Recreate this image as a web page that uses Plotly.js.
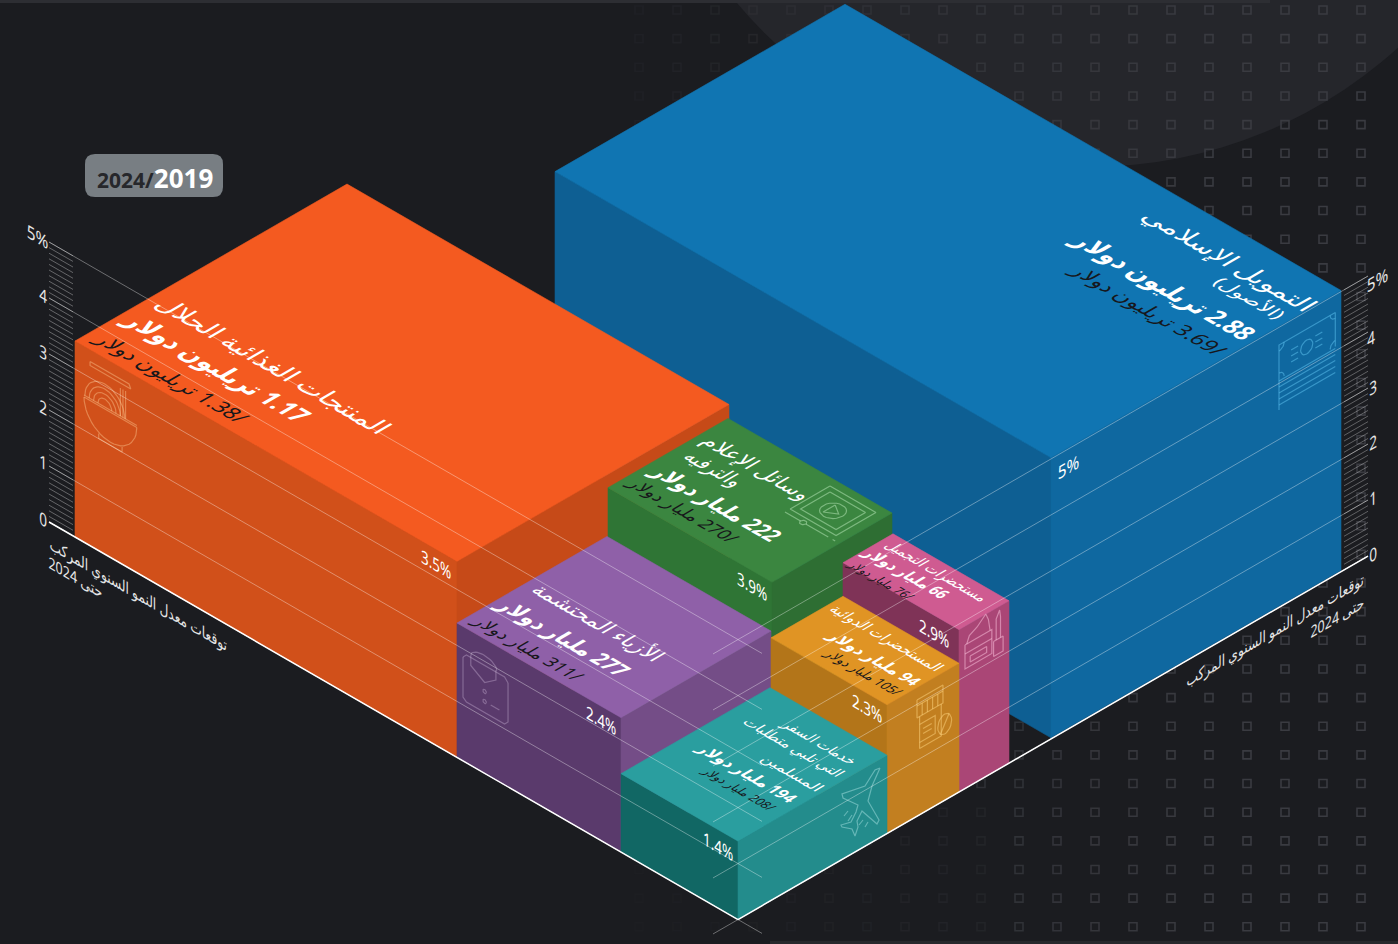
<!DOCTYPE html>
<html lang="ar">
<head>
<meta charset="utf-8">
<title>الاقتصاد الإسلامي</title>
<script src="https://cdn.plot.ly/plotly-3.0.1.min.js"></script>
<style>html,body{margin:0;padding:0;background:#1b1c20;overflow:hidden}#chart{width:1398px;height:944px}</style>
</head>
<body>
<div id="chart"></div>
<script>
// Sector figures
const sectors = ['التمويل الإسلامي', 'المنتجات الغذائية الحلال', 'وسائل الإعلام والترفيه', 'الأزياء المحتشمة', 'مستحضرات التجميل', 'المستحضرات الدوائية', 'خدمات السفر التي تلبي متطلبات المسلمين'];
const growthPct = [5, 3.5, 3.9, 2.4, 2.9, 2.3, 1.4];
const value2019 = ['2.88', '1.17', '222', '277', '66', '94', '194'];
const value2024 = ['3.69', '1.38', '270', '311', '76', '105', '208'];
const units = ['تريليون دولار', 'تريليون دولار', 'مليار دولار', 'مليار دولار', 'مليار دولار', 'مليار دولار', 'مليار دولار'];
const yAxisTicks = [0, 1, 2, 3, 4, 5];

// Floor plan of each block, painted back to front
const floorA0 = [166, 0, 413, 382, 547, 547, 546];
const floorA1 = [662, 382, 577, 546, 663, 663, 663];
const floorB0 = [314, 0, 120, 0, 221, 149, 0];
const floorB1 = [604, 272, 240, 150, 271, 221, 149];

const topColors = ['#1075b2', '#f45a20', '#3b8640', '#8f60a8', '#cf5b91', '#e09424', '#2a9e9f'];
const leftColors = ['#0e5f93', '#d1501a', '#2f7535', '#5a3a6c', '#7f3357', '#b37519', '#116764'];
const rightColors = ['#0f68a0', '#c64a18', '#2e6e33', '#744d87', '#aa4676', '#c27f20', '#238c8c'];

// Isometric projection of floor coordinates and height in percent
const X0 = 75, Y0 = 537, SLOPE = 0.577, PX_PER_PCT = 56;
const project = (a, b, h) => [X0 + a + b, Y0 + SLOPE * (a - b) - PX_PER_PCT * h];

const PLANES = {
  top: [0.866, 0.5, -0.866, 0.5],
  left: [0.866, 0.5, 0, 1],
  right: [0.866, -0.5, 0, 1],
  flat: [1, 0, 0, 1]
};

const traces = [];
const hidden = { hoverinfo: 'skip', showlegend: false, cliponaxis: false };

// Rounded-square texture behind the chart
(function texture() {
  const xs = [], ys = [], op = [];
  for (let c = 0; c < 21; c++) {
    for (let r = 0; r < 33; r++) {
      const x = 639 + 38 * c, y = 10 + 28.65 * r;
      xs.push(x); ys.push(y);
      const ramp = Math.min(1, (x - 600) / 620);
      op.push((y > 790 && x < 1000 ? 0.4 : 1) * (0.1 + 0.9 * ramp));
    }
  }
  traces.push(Object.assign({
    type: 'scatter', mode: 'markers', x: xs, y: ys,
    marker: { symbol: 'square-open', size: 8, opacity: op, line: { color: '#3a3b41', width: 1.6 }, color: '#3a3b41' }
  }, hidden));
})();

function face(points, color) {
  const closed = points.concat([points[0]]);
  traces.push(Object.assign({
    type: 'scatter', mode: 'lines', fill: 'toself', fillcolor: color,
    x: closed.map(p => p[0]), y: closed.map(p => p[1]),
    line: { width: 0.6, color: color }
  }, hidden));
}

sectors.forEach((_, i) => {
  const a0 = floorA0[i], a1 = floorA1[i], b0 = floorB0[i], b1 = floorB1[i], h = growthPct[i];
  face([project(a0, b0, h), project(a1, b0, h), project(a1, b0, 0), project(a0, b0, 0)], leftColors[i]);
  face([project(a1, b0, h), project(a1, b1, h), project(a1, b1, 0), project(a1, b0, 0)], rightColors[i]);
  face([project(a0, b0, h), project(a1, b0, h), project(a1, b1, h), project(a0, b1, h)], topColors[i]);
});

// Thin-line pictograms laid on the block faces
function arc(cx, cy, rx, ry, t0, t1) {
  const pts = [], n = 24;
  for (let k = 0; k <= n; k++) {
    const t = (t0 + (t1 - t0) * k / n) * Math.PI / 180;
    pts.push([cx + rx * Math.cos(t), cy + ry * Math.sin(t)]);
  }
  return pts;
}
function icon(plane, ox, oy, paths, color) {
  const m = PLANES[plane], xs = [], ys = [];
  paths.forEach(path => {
    path.forEach(p => {
      xs.push(ox + m[0] * p[0] + m[2] * p[1]);
      ys.push(oy + m[1] * p[0] + m[3] * p[1]);
    });
    xs.push(null); ys.push(null);
  });
  traces.push(Object.assign({
    type: 'scatter', mode: 'lines', x: xs, y: ys,
    line: { color: color, width: 1.2, shape: 'linear' }
  }, hidden));
}
// noodle bowl
icon('left', 84, 395, [
  [[0, 0], [61, 0]],
  [[0, 2], [61, 2]],
  arc(30.5, 2, 30.5, 30, 0, 180),
  [[17, 30], [17, 35], [44, 35], [44, 30]],
  arc(24, 0, 8, 8, 180, 360), arc(24, 0, 13, 13, 180, 360), arc(24, 0, 18, 18, 180, 360), arc(24, 0, 23, 23, 180, 360),
  [[42, -28], [42, 0]], [[45, -28], [45, 0]], [[48, -28], [48, 0]],
  [[7, -37], [52, -37], [54, -33], [7, -33], [7, -37]]
], 'rgba(255,205,150,0.42)');
// banknote and ledger
icon('right', 1279, 345, [
  [[0, 65], [0, 0], [65, 0], [65, 34]],
  arc(32, 18, 7, 7, 0, 360),
  [[14, 12], [22, 12]], [[14, 18], [22, 18]], [[14, 24], [22, 24]],
  [[42, 12], [50, 12]], [[42, 18], [50, 18]], [[42, 24], [50, 24]],
  arc(0, 0, 6, 6, 0, 90), arc(65, 0, 6, 6, 90, 180), arc(0, 34, 6, 6, -90, 0), arc(65, 34, 6, 6, 180, 270),
  [[0, 36], [65, 36]], [[0, 42], [65, 42]], [[0, 48], [65, 48]], [[0, 54], [65, 54]], [[0, 60], [65, 60]]
], 'rgba(90,190,235,0.55)');
// screen with a play button
icon('top', 830, 486, [
  [[0, 0], [53, 0], [53, 46], [0, 46], [0, 0]],
  [[6, 6], [47, 6], [47, 40], [6, 40], [6, 6]],
  arc(26.5, 23, 11, 11, 0, 360),
  [[22, 16], [33, 23], [22, 30], [22, 16]],
  [[0, 52], [18, 52]], arc(21, 52, 3, 3, 0, 360), [[24, 52], [50, 52]], [[55, 52], [58, 52]]
], 'rgba(190,235,190,0.5)');
// cream jar and lipstick
icon('right', 965, 645, [
  [[0, 0], [31, 0], [31, 24], [0, 24], [0, 0]],
  [[0, 9], [31, 9]], [[6, 14], [25, 14], [25, 20], [6, 20], [6, 14]],
  [[2, 0], [5, -7], [14, -11], [24, -19], [27, -12], [29, 0]],
  [[33, 13], [44, 13], [44, 28], [33, 28], [33, 13]],
  [[36, 13], [36, -8], [40, -15], [41, -8], [41, 13]]
], 'rgba(255,200,225,0.5)');
// pill bottle
icon('right', 917, 700, [
  [[0, 0], [30, 0], [30, 18], [0, 18], [0, 0]],
  [[6, 6], [6, 18]], [[12, 6], [12, 18]], [[18, 6], [18, 18]], [[24, 6], [24, 18]], [[0, 6], [30, 6]],
  [[3, 18], [3, 50], [28, 50], [28, 18]],
  [[3, 26], [21, 26], [21, 44], [3, 44]], [[7, 32], [17, 32]], [[7, 37], [17, 37]],
  arc(32, 40, 8, 10, 0, 360), [[27, 48], [37, 32]]
], 'rgba(250,205,120,0.55)');
// aeroplane
icon('flat', 860, 803, [
  [[20, -35], [12, -17], [8, -2], [19, 17], [17, 21], [2, 8], [-3, 18], [-2, 24], [-5, 33], [-8, 26], [-18, 24], [-19, 22], [-9, 19], [-4, 9], [-2, 2], [-17, -5], [-18, -9], [5, -17], [15, -33], [20, -35]],
  [[-12, 8], [-16, 13]], [[-8, 12], [-12, 18]], [[3, 17], [-1, 22]], [[8, 19], [5, 24]]
], 'rgba(190,240,240,0.42)');
// shirt tag
icon('left', 463, 653, [
  [[0, 4], [0, 44], [4, 47], [48, 47], [52, 43], [52, 4]],
  [[0, 4], [4, 0], [48, 0], [52, 4]],
  arc(24, -2, 15, 8, 180, 360),
  [[9, -2], [9, 8], [25, 17], [38, 8], [38, -2]],
  arc(25, 26, 2, 2, 0, 360), arc(25, 36, 2, 2, 0, 360), [[32, 36], [42, 36]]
], 'rgba(235,215,245,0.3)');

// Grid: one line per percent along each floor edge, plus a hatched scale behind
const END_A = 663, END_B = 604;
function line(p, q, color, width) {
  traces.push(Object.assign({
    type: 'scatter', mode: 'lines', x: [p[0], q[0]], y: [p[1], q[1]],
    line: { color: color, width: width }
  }, hidden));
}
for (let t = 0; t <= 50; t++) {
  const h = t / 10;
  line(project(-26, 0, h), project(-2, 0, h), 'rgba(255,255,255,0.32)', 1);
  line(project(END_A, END_B + 2, h), project(END_A, END_B + 26, h), 'rgba(255,255,255,0.30)', 1);
}
yAxisTicks.forEach(h => {
  line(project(-26, 0, h), project(END_A + 24, 0, h), 'rgba(255,255,255,0.36)', 1);
  line(project(END_A, -25, h), project(END_A, END_B + 26, h), 'rgba(255,255,255,0.36)', 1);
});
line(project(-26, 0, 0), project(END_A, 0, 0), '#ffffff', 1.5);
line(project(END_A, 0, 0), project(END_A, END_B + 26, 0), '#ffffff', 1.5);

// Labels: text, screen centre, run length and plane
const WHITE = '#ffffff', INK = '#17171b';
const rtl = s => '\u202B' + s + '\u202C';
const labels = [];
function label(text, cx, cy, len, size, plane, color, weight) {
  labels.push({ text, cx, cy, len, size, plane, color: color || WHITE, weight: weight || 400 });
}
const money = (i, bold) => rtl((bold ? value2019[i] : '/' + value2024[i]) + ' ' + units[i]);
const pct = i => growthPct[i] + '%';

label(rtl('التمويل الإسلامي'), 1230, 260, 190, 25, 'top');
label(rtl('(الأصول)'), 1250, 298, 74, 18, 'top');
label(money(0, true), 1164, 286, 200, 26, 'top', WHITE, 700);
label(money(0, false), 1149, 310, 170, 21, 'top', INK);

label(rtl('المنتجات الغذائية الحلال'), 274, 365, 260, 25, 'top');
label(money(1, true), 217, 367, 204, 26, 'top', WHITE, 700);
label(money(1, false), 172, 378, 168, 21, 'top', INK);

label(rtl('وسائل الإعلام'), 758, 467, 118, 22, 'top');
label(rtl('والترفيه'), 715, 468, 60, 22, 'top');
label(money(2, true), 717, 503, 140, 23, 'top', WHITE, 700);
label(money(2, false), 683, 510, 120, 18, 'top', INK);

label(rtl('الأزياء المحتشمة'), 599, 622, 143, 22, 'top');
label(money(3, true), 564, 637, 143, 23, 'top', WHITE, 700);
label(money(3, false), 528, 648, 120, 18, 'top', INK);

label(rtl('مستحضرات التجميل'), 937, 571, 112, 16, 'top');
label(money(4, true), 907, 573, 92, 17, 'top', WHITE, 700);
label(money(4, false), 881, 580, 70, 13, 'top', INK);

label(rtl('المستحضرات الدوائية'), 887, 638, 124, 16, 'top');
label(money(5, true), 875, 658, 100, 17, 'top', WHITE, 700);
label(money(5, false), 864, 672, 84, 14, 'top', INK);

label(rtl('خدمات السفر'), 820, 742, 81, 15, 'top');
label(rtl('التي تلبي متطلبات'), 794, 747, 110, 15, 'top');
label(rtl('المسلمين'), 793, 773, 65, 15, 'top');
label(money(6, true), 748, 773, 108, 17, 'top', WHITE, 700);
label(money(6, false), 739, 789, 79, 13, 'top', INK);

// Growth rates printed beside each block's front corner
label(pct(1), 436, 564, 35, 18, 'left');
label(pct(2), 752, 586, 35, 18, 'left');
label(pct(3), 601, 720, 35, 18, 'left');
label(pct(4), 934, 633, 35, 18, 'left');
label(pct(5), 867, 708, 35, 18, 'left');
label(pct(6), 718, 846, 35, 18, 'left');
label(pct(0), 1068, 467, 25, 18, 'right');

// Scale numerals on both walls
const leftTickY = [519, 462, 407, 352, 295, 236];
const rightTickY = [554, 498, 442, 387, 338, 280];
const rightTickX = [1373, 1373, 1373, 1373, 1371, 1377];
yAxisTicks.forEach((t, i) => {
  label(t === 5 ? '5%' : String(t), t === 5 ? 37 : 43, leftTickY[i], t === 5 ? 25 : 9, 18, 'left', '#e6e6e6');
  label(t === 5 ? '5%' : String(t), rightTickX[i], rightTickY[i], t === 5 ? 25 : 9, 18, 'right', '#e6e6e6');
});

// Wall captions
label(rtl('توقعات معدل النمو السنوي المركب'), 138, 594, 205, 16, 'left', '#e6e6e6');
label(rtl('حتى 2024'), 75, 577, 62, 16, 'left', '#e6e6e6');
label(rtl('توقعات معدل النمو السنوي المركب'), 1275, 630, 205, 16, 'right', '#e6e6e6');
label(rtl('حتى 2024'), 1337, 617, 62, 16, 'right', '#e6e6e6');

const FONT = '"Noto Sans", "DejaVu Sans", sans-serif';
const annotations = labels.map(l => ({
  x: l.cx, y: l.cy, xref: 'x', yref: 'y', text: l.text, showarrow: false,
  xanchor: 'center', yanchor: 'middle', textangle: 0.001,
  font: { family: FONT, size: l.size, color: l.color, weight: l.weight }
}));
annotations.push({
  x: 155, y: 178, xref: 'x', yref: 'y', showarrow: false, xanchor: 'center', yanchor: 'middle',
  text: '<span style="color:#26272b;font-size:21px"><b>2024/</b></span><span style="color:#ffffff;font-size:26px"><b>2019</b></span>',
  font: { family: FONT, size: 24, color: '#ffffff' }
});

const layout = {
  width: 1398, height: 944, autosize: false,
  margin: { l: 0, r: 0, t: 0, b: 0, pad: 0 },
  paper_bgcolor: '#1b1c20', plot_bgcolor: 'rgba(0,0,0,0)',
  showlegend: false, hovermode: false, dragmode: false,
  xaxis: { range: [0, 1398], visible: false, fixedrange: true },
  yaxis: { range: [944, 0], visible: false, fixedrange: true },
  annotations,
  shapes: [
    { type: 'circle', layer: 'below', xref: 'x', yref: 'y', x0: 629, x1: 1549, y0: -753, y1: 167, fillcolor: '#25262b', line: { width: 0 } },
    { type: 'rect', layer: 'below', xref: 'x', yref: 'y', x0: 0, x1: 1270, y0: 0, y1: 3, fillcolor: '#2d2e33', line: { width: 0 } },
    { type: 'rect', layer: 'below', xref: 'x', yref: 'y', x0: 770, x1: 1398, y0: 941, y1: 944, fillcolor: '#27282c', line: { width: 0 } },
    { type: 'path', layer: 'below', xref: 'x', yref: 'y',
      path: 'M95,154 L213,154 Q223,154 223,164 L223,187 Q223,197 213,197 L95,197 Q85,197 85,187 L85,164 Q85,154 95,154 Z',
      fillcolor: '#787e83', line: { width: 0 } }
  ]
};

// Annotations only rotate, so the isometric shear is applied once they are drawn
function shearLabels() {
  labels.forEach((l, i) => {
    const g = document.querySelector('.annotation[data-index="' + i + '"] .annotation-text-g');
    if (!g) return;
    const tf = g.getAttribute('transform') || '';
    const hit = tf.match(/rotate\(\s*[-\d.e]+[ ,]+([-\d.e]+)[ ,]+([-\d.e]+)\s*\)/);
    if (!hit) return;
    const text = g.querySelector('text');
    const w = text ? text.getBBox().width : 0;
    const fit = w > 0 ? l.len / w : 1;
    const m = PLANES[l.plane];
    const cx = parseFloat(hit[1]), cy = parseFloat(hit[2]);
    g.setAttribute('transform',
      'translate(' + cx + ' ' + cy + ') matrix(' + (m[0] * fit) + ' ' + (m[1] * fit) + ' ' + m[2] + ' ' + m[3] + ' 0 0) translate(' + (-cx) + ' ' + (-cy) + ')');
  });
}

Plotly.newPlot('chart', traces, layout, { displayModeBar: false, staticPlot: true, responsive: false }).then(shearLabels);
</script>
</body>
</html>
